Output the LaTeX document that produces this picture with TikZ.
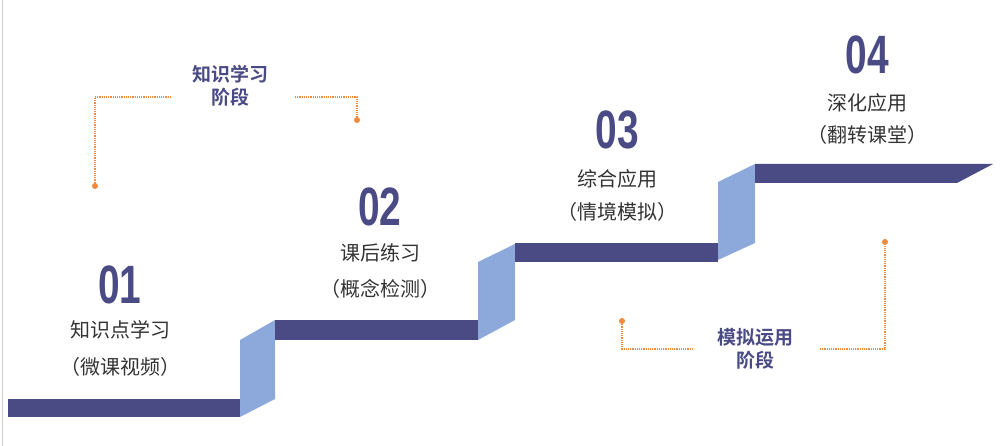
\documentclass[tikz,border=0pt]{standalone}
\usepackage{fontspec}
\setmainfont{Liberation Sans}
\newfontfamily\cjk{Noto Sans CJK SC}
\newfontfamily\cjkb{Noto Sans CJK SC Bold}
\definecolor{navy}{HTML}{4A4A85}
\definecolor{lblue}{HTML}{8DA9DB}
\definecolor{orng}{HTML}{F08A3C}
\definecolor{txt}{HTML}{333333}
\begin{document}
\begin{tikzpicture}[x=1pt,y=-1pt,
  num/.style={text=navy,font=\fontsize{54}{54}\selectfont\bfseries,inner sep=0},
  lbl/.style={text=txt,font=\cjk\fontsize{20}{24}\selectfont,inner sep=0},
  stage/.style={text=navy,font=\cjkb\fontsize{19}{23}\selectfont,inner sep=0},
  bracket/.style={orng,densely dotted,line width=1.2pt},
  dot/.style={circle,fill=orng,inner sep=0,minimum size=6pt}]
\useasboundingbox (0,0) rectangle (1004,446);
\draw[gray!40,line width=1pt] (2,0) -- (2,446);
% bars
\fill[navy] (8,399) rectangle (240,417);
\fill[lblue] (240,417) -- (240,340) -- (275,320) -- (275,399) -- cycle;
\fill[navy] (275,320) rectangle (478,340);
\fill[lblue] (478,340) -- (478,262) -- (515,244) -- (515,320) -- cycle;
\fill[navy] (515,243) rectangle (718,262);
\fill[lblue] (718,260) -- (718,182) -- (755,164) -- (755,243) -- cycle;
\fill[navy] (755,164) -- (993,164) -- (957,183) -- (755,183) -- cycle;
% numbers and labels
\node[num] (n1) at (120,285) {\scalebox{0.72}[1]{01}};
\node[lbl] (l1a) at (120,330) {知识点学习};
\node[lbl] (l1b) at (120,367) {（微课视频）};
\node[num] (n2) at (380,207) {\scalebox{0.72}[1]{02}};
\node[lbl] (l2a) at (380,253) {课后练习};
\node[lbl] (l2b) at (380,289) {（概念检测）};
\node[num] (n3) at (617,130) {\scalebox{0.72}[1]{03}};
\node[lbl] (l3a) at (617,179) {综合应用};
\node[lbl] (l3b) at (617,212) {（情境模拟）};
\node[num] (n4) at (867,55) {\scalebox{0.72}[1]{04}};
\node[lbl] (l4a) at (867,103) {深化应用};
\node[lbl] (l4b) at (867,135) {（翻转课堂）};
% stage brackets
\node[stage,align=center] (s1) at (230,86) {知识学习\\阶段};
\node[dot] (d1) at (95,186) {};
\node[dot] (d2) at (357,120) {};
\coordinate (c1) at (95,97);
\coordinate (c2) at (357,97);
\draw[bracket] (d1) -- (c1) -- (c1 -| 170,0);
\draw[bracket] (c2 -| 295,0) -- (c2) -- (d2);
\node[stage,align=center] (s2) at (755,349) {模拟运用\\阶段};
\node[dot] (d3) at (622,321) {};
\node[dot] (d4) at (885,242) {};
\coordinate (c3) at (622,349);
\coordinate (c4) at (885,349);
\draw[bracket] (d3) -- (c3) -- (c3 -| 692,0);
\draw[bracket] (c4 -| 820,0) -- (c4) -- (d4);
\end{tikzpicture}
\end{document}
